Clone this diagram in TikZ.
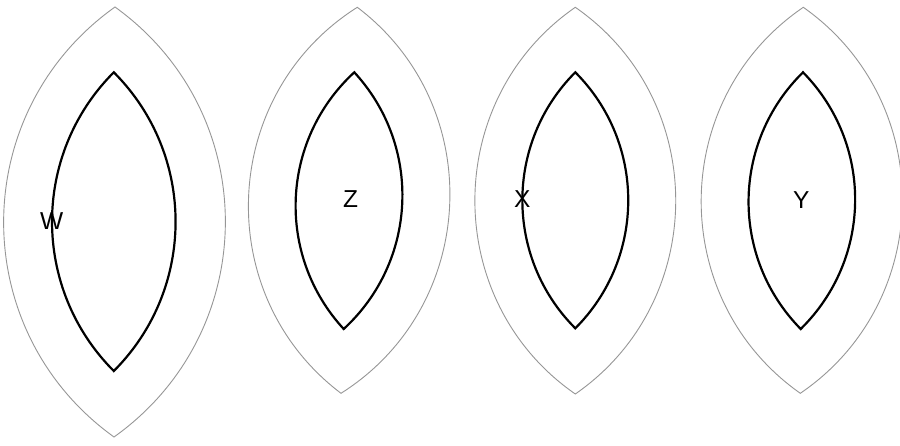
\documentclass[tikz,border=0pt]{standalone}
\usepackage{fontspec}
\setmainfont{Liberation Sans}
\definecolor{lensgray}{RGB}{150,150,150}
\begin{document}
\begin{tikzpicture}[x=1pt,y=-1pt,
  outerlens/.style={draw=lensgray, line width=0.9pt, line join=miter},
  innerlens/.style={draw=black, line width=2.2pt, line join=miter},
  obend/.style={bend right=#1, looseness=1.08},
  ibend/.style={bend right=45, looseness=1.0},
  lenslabel/.style={inner sep=0pt, font=\fontsize{24.5}{28}\selectfont}]
\useasboundingbox (0,0) rectangle (900,446);
% coordinates: outer/inner tops and bottoms
\coordinate (wot) at (115,7);     \coordinate (wob) at (114,437);
\coordinate (wit) at (113.8,72.3); \coordinate (wib) at (113.8,371);
\coordinate (zot) at (357.3,7.3); \coordinate (zob) at (341,393.3);
\coordinate (zit) at (354.3,72.3); \coordinate (zib) at (343.7,329);
\coordinate (xot) at (575.3,7.3); \coordinate (xob) at (575.3,394);
\coordinate (xit) at (575.3,72.3); \coordinate (xib) at (575.3,328.3);
\coordinate (yot) at (803.3,7.3); \coordinate (yob) at (800.3,393.3);
\coordinate (yit) at (803,72.3);   \coordinate (yib) at (800.7,329);
% outer lenses
\draw[outerlens] (wot) to[obend=54.4] (wob) to[obend=54.4] cycle;
\draw[outerlens] (zot) to[obend=55.3] (zob) to[obend=55.3] cycle;
\draw[outerlens] (xot) to[obend=55.3] (xob) to[obend=55.3] cycle;
\draw[outerlens] (yot) to[obend=55.3] (yob) to[obend=55.3] cycle;
% inner lenses
\draw[innerlens] (wit) to[ibend] (wib) to[ibend] cycle;
\draw[innerlens] (zit) to[ibend] (zib) to[ibend] cycle;
\draw[innerlens] (xit) to[ibend] (xib) to[ibend] cycle;
\draw[innerlens] (yit) to[ibend] (yib) to[ibend] cycle;
% labels
\node[lenslabel] (w) at (51.7,221) {W};
\node[lenslabel] (z) at (350.7,199) {Z};
\node[lenslabel] (x) at (522.3,199) {X};
\node[lenslabel] (y) at (801.3,200) {Y};
\end{tikzpicture}
\end{document}
